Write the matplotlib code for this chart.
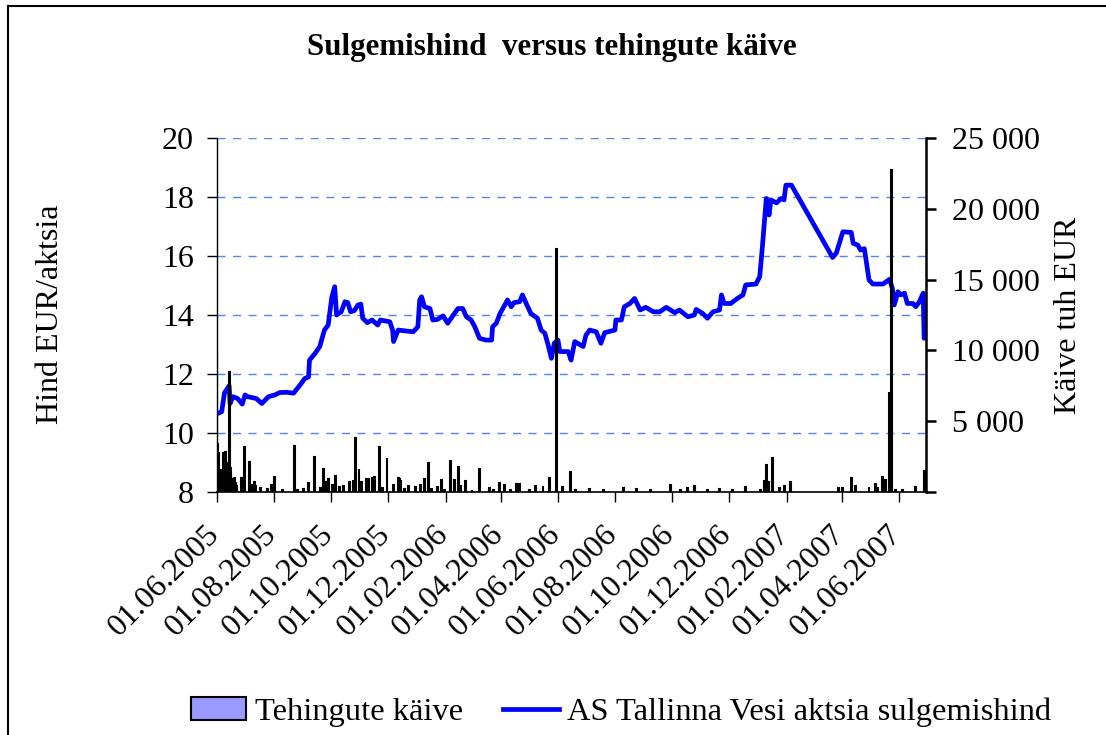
import matplotlib
matplotlib.use("Agg")
import matplotlib.pyplot as plt
import matplotlib.dates as mdates
from matplotlib.ticker import FuncFormatter, FixedLocator
from matplotlib.patches import Patch
from matplotlib.lines import Line2D
from matplotlib.transforms import ScaledTranslation
import pandas as pd

# ---------------- data ----------------
price_dates = [
    "2005-06-01", "2005-06-06", "2005-06-09", "2005-06-14", "2005-06-15", "2005-06-18",
    "2005-06-23", "2005-06-28", "2005-07-01", "2005-07-04", "2005-07-13", "2005-07-19",
    "2005-07-26", "2005-08-02", "2005-08-07", "2005-08-14", "2005-08-22", "2005-08-29",
    "2005-09-03", "2005-09-07", "2005-09-08", "2005-09-14", "2005-09-19", "2005-09-24",
    "2005-09-28", "2005-10-02", "2005-10-05", "2005-10-07", "2005-10-12", "2005-10-16",
    "2005-10-19", "2005-10-22", "2005-10-26", "2005-10-30", "2005-11-02", "2005-11-04",
    "2005-11-09", "2005-11-14", "2005-11-20", "2005-11-23", "2005-12-03", "2005-12-06",
    "2005-12-07", "2005-12-12", "2005-12-17", "2005-12-28", "2006-01-02", "2006-01-04",
    "2006-01-06", "2006-01-09", "2006-01-15", "2006-01-18", "2006-01-23", "2006-01-29",
    "2006-02-03", "2006-02-09", "2006-02-14", "2006-02-19", "2006-02-23", "2006-02-28",
    "2006-03-04", "2006-03-09", "2006-03-16", "2006-03-22", "2006-03-23", "2006-03-27",
    "2006-03-31", "2006-04-05", "2006-04-08", "2006-04-12", "2006-04-15", "2006-04-21",
    "2006-04-24", "2006-04-28", "2006-05-03", "2006-05-10", "2006-05-14", "2006-05-18",
    "2006-05-21", "2006-05-25", "2006-05-28", "2006-06-01", "2006-06-03", "2006-06-12",
    "2006-06-15", "2006-06-19", "2006-06-28", "2006-07-01", "2006-07-05", "2006-07-12",
    "2006-07-17", "2006-07-21", "2006-08-01", "2006-08-02", "2006-08-08", "2006-08-11",
    "2006-08-17", "2006-08-22", "2006-08-28", "2006-09-03", "2006-09-11", "2006-09-18",
    "2006-09-25", "2006-10-04", "2006-10-09", "2006-10-18", "2006-10-25", "2006-10-27",
    "2006-11-03", "2006-11-08", "2006-11-14", "2006-11-21", "2006-11-23", "2006-11-26",
    "2006-12-03", "2006-12-10", "2006-12-16", "2006-12-19", "2006-12-30", "2007-01-03",
    "2007-01-06", "2007-01-10", "2007-01-13", "2007-01-15", "2007-01-21", "2007-01-26",
    "2007-01-29", "2007-01-31", "2007-02-06", "2007-03-22", "2007-03-26", "2007-04-02",
    "2007-04-11", "2007-04-13", "2007-04-18", "2007-04-21", "2007-04-25", "2007-04-30",
    "2007-05-04", "2007-05-15", "2007-05-22", "2007-05-25", "2007-05-27", "2007-05-31",
    "2007-06-03", "2007-06-07", "2007-06-10", "2007-06-16", "2007-06-19", "2007-06-23",
    "2007-06-27", "2007-06-28",
]
price_values = [
    10.65, 10.72, 11.36, 11.60, 11.00, 11.23,
    11.17, 10.98, 11.29, 11.23, 11.17, 11.00,
    11.23, 11.29, 11.37, 11.38, 11.35, 11.63,
    11.85, 11.90, 12.47, 12.70, 12.93, 13.49,
    13.66, 14.62, 14.96, 14.00, 14.11, 14.45,
    14.42, 14.11, 14.15, 14.34, 14.37, 13.89,
    13.74, 13.83, 13.66, 13.83, 13.77, 13.49,
    13.10, 13.49, 13.47, 13.43, 13.60, 14.51,
    14.62, 14.28, 14.22, 13.83, 13.85, 13.97,
    13.72, 14.00, 14.22, 14.22, 13.94, 13.83,
    13.60, 13.21, 13.15, 13.15, 13.60, 13.72,
    14.05, 14.34, 14.51, 14.28, 14.42, 14.45,
    14.68, 14.39, 14.05, 13.89, 13.49, 13.38,
    13.04, 12.53, 13.04, 13.15, 12.76, 12.76,
    12.47, 13.10, 12.93, 13.32, 13.49, 13.43,
    13.04, 13.40, 13.49, 13.83, 13.83, 14.28,
    14.39, 14.56, 14.17, 14.26, 14.11, 14.11,
    14.26, 14.08, 14.17, 13.94, 14.00, 14.19,
    14.05, 13.89, 14.11, 14.17, 14.68, 14.39,
    14.39, 14.56, 14.68, 15.02, 15.05, 15.30,
    16.37, 17.95, 17.39, 17.90, 17.80, 17.95,
    17.90, 18.40, 18.40, 15.95, 16.10, 16.82,
    16.80, 16.43, 16.37, 16.20, 16.25, 15.19,
    15.05, 15.05, 15.21, 14.90, 14.34, 14.79,
    14.68, 14.74, 14.39, 14.39, 14.28, 14.45,
    14.74, 13.21,
]

volume_dates = [
    "2005-06-01", "2005-06-02", "2005-06-03", "2005-06-06", "2005-06-07", "2005-06-08",
    "2005-06-09", "2005-06-10", "2005-06-13", "2005-06-14", "2005-06-15", "2005-06-16",
    "2005-06-17", "2005-06-20", "2005-06-21", "2005-06-22", "2005-06-27", "2005-06-30",
    "2005-07-06", "2005-07-08", "2005-07-11", "2005-07-12", "2005-07-18", "2005-07-25",
    "2005-07-29", "2005-08-02", "2005-08-10", "2005-08-23", "2005-08-26", "2005-09-02",
    "2005-09-07", "2005-09-13", "2005-09-20", "2005-09-23", "2005-09-26", "2005-09-28",
    "2005-10-03", "2005-10-06", "2005-10-10", "2005-10-14", "2005-10-21", "2005-10-25",
    "2005-10-27", "2005-10-31", "2005-11-03", "2005-11-08", "2005-11-10", "2005-11-14",
    "2005-11-16", "2005-11-17", "2005-11-22", "2005-11-25", "2005-11-30", "2005-12-07",
    "2005-12-12", "2005-12-13", "2005-12-15", "2005-12-19", "2005-12-23", "2005-12-30",
    "2006-01-05", "2006-01-09", "2006-01-13", "2006-01-17", "2006-01-23", "2006-01-27",
    "2006-01-31", "2006-02-06", "2006-02-10", "2006-02-15", "2006-02-17", "2006-02-22",
    "2006-03-01", "2006-03-09", "2006-03-20", "2006-03-24", "2006-03-30", "2006-04-05",
    "2006-04-11", "2006-04-18", "2006-04-21", "2006-05-02", "2006-05-08", "2006-05-16",
    "2006-05-23", "2006-05-30", "2006-06-06", "2006-06-14", "2006-06-20", "2006-07-05",
    "2006-07-20", "2006-08-10", "2006-08-24", "2006-09-08", "2006-09-29", "2006-10-10",
    "2006-10-18", "2006-10-25", "2006-11-08", "2006-11-21", "2006-12-05", "2006-12-19",
    "2007-01-04", "2007-01-08", "2007-01-10", "2007-01-12", "2007-01-17", "2007-01-24",
    "2007-01-30", "2007-02-05", "2007-03-28", "2007-04-02", "2007-04-11", "2007-04-16",
    "2007-04-30", "2007-05-07", "2007-05-09", "2007-05-14", "2007-05-18", "2007-05-22",
    "2007-05-24", "2007-05-28", "2007-06-05", "2007-06-19", "2007-06-28",
]
volume_values = [
    9900, 3400, 2730, 1550, 1000, 2730,
    1200, 2850, 2020, 8490, 1700, 1320,
    900, 965, 610, 400, 965, 3200,
    2140, 500, 730, 400, 260, 200,
    490, 1035, 150, 3250, 120, 200,
    660, 2490, 300, 1600, 700, 895,
    500, 1130, 350, 400, 730, 800,
    3790, 1600, 700, 895, 900, 965,
    950, 1080, 3200, 300, 2420, 490,
    1010, 900, 850, 200, 420, 380,
    490, 895, 2070, 200, 330, 850,
    150, 2190, 850, 1790, 400, 800,
    150, 1620, 260, 150, 610, 490,
    150, 565, 565, 150, 420, 420,
    965, 17130, 380, 1435, 150, 190,
    120, 305, 190, 120, 520, 130,
    260, 420, 150, 210, 150, 330,
    140, 800, 1900, 730, 2380, 260,
    420, 730, 260, 305, 1010, 420,
    330, 565, 260, 1080, 850, 6960,
    22730, 140, 140, 380, 1500,
]

title = "Sulgemishind  versus tehingute käive"
left_label = "Hind EUR/aktsia"
right_label = "Käive tuh EUR"
bar_name = "Tehingute käive"
line_name = "AS Tallinna Vesi aktsia sulgemishind"
price_ticks = [8, 10, 12, 14, 16, 18, 20]
volume_ticks = [0, 5000, 10000, 15000, 20000, 25000]

# ---------------- plot ----------------
plt.rcParams["font.family"] = ["Liberation Serif", "DejaVu Serif"]
plt.rcParams["lines.scale_dashes"] = False
FS = 23

W, H = 1106, 735
fig = plt.figure(figsize=(W / 100, H / 100), dpi=100)
ax = fig.add_axes([217 / W, 1 - 492 / H, (926 - 217) / W, (492 - 138) / H])
ax2 = ax.twinx()

pd_price = pd.to_datetime(price_dates)
pd_vol = pd.to_datetime(volume_dates)

ax.plot(pd_price, price_values, color="#0000FF", lw=3.4, solid_joinstyle="round",
        solid_capstyle="round", zorder=3)
ax2.bar(pd_vol, volume_values, width=1.0, color="#9999FF", edgecolor="black",
        linewidth=1.5, zorder=3)

ax.set_xlim(pd.Timestamp("2005-06-01"), pd.Timestamp("2007-06-30"))
ax.set_ylim(8, 20)
ax2.set_ylim(0, 25000)

ax.yaxis.set_major_locator(FixedLocator(price_ticks))
ax2.yaxis.set_major_locator(FixedLocator(volume_ticks))
ax2.yaxis.set_major_formatter(FuncFormatter(lambda v, p: f"{int(v):,}".replace(",", " ") if v > 0 else ""))

ax.xaxis.set_major_locator(mdates.MonthLocator(bymonth=[2, 4, 6, 8, 10, 12]))
ax.xaxis.set_major_formatter(mdates.DateFormatter("%d.%m.%Y"))

ax.grid(axis="y", color="#5A80F5", lw=1.0, linestyle=(0, (5.8, 5.4)))
ax.set_axisbelow(True)

for s in ["top", "right"]:
    ax.spines[s].set_visible(False)
for s in ["top", "left", "bottom"]:
    ax2.spines[s].set_visible(False)
ax.spines["left"].set_linewidth(1.0)
ax.spines["bottom"].set_linewidth(1.2)
ax2.spines["right"].set_linewidth(1.8)

ax.tick_params(axis="y", direction="out", length=7.5, width=1.0, labelsize=FS, pad=9)
ax.tick_params(axis="x", direction="out", length=7.5, width=1.0, labelsize=FS, pad=4)
ax2.tick_params(axis="y", direction="out", length=7.5, width=1.8, labelsize=FS, pad=11)

for lab in ax.get_xticklabels():
    lab.set_rotation(45)
    lab.set_rotation_mode("anchor")
    lab.set_ha("right")
    lab.set_va("top")
offset = ScaledTranslation(-12 / 100, -12 / 100, fig.dpi_scale_trans)
for lab in ax.xaxis.get_majorticklabels():
    lab.set_transform(lab.get_transform() + offset)

fig.text(51 / W, 1 - 314 / H, left_label, rotation=90, ha="center", va="center", fontsize=FS)
fig.text(1068 / W, 1 - 315 / H, right_label, rotation=90, ha="center", va="center", fontsize=FS)
fig.text(552 / W, 1 - 47 / H, title, ha="center", va="center", fontsize=22.3, fontweight="bold")

handles = [Patch(facecolor="#9999FF", edgecolor="black", linewidth=1.5, label=bar_name),
           Line2D([0], [0], color="#0000FF", lw=3.4, label=line_name)]
fig.legend(handles=handles, loc="center", bbox_to_anchor=(621 / W, 1 - 712 / H), ncol=2,
           frameon=False, fontsize=23.4, handlelength=1.7, handleheight=0.68,
           handletextpad=0.25, columnspacing=1.25, borderpad=0)

# chart-area frame (left and top edges visible)
fig.add_artist(Line2D([7.5 / W, 7.5 / W], [0, 1 - 5.5 / H], color="black", lw=1.5))
fig.add_artist(Line2D([7.5 / W, 1], [1 - 5.5 / H, 1 - 5.5 / H], color="black", lw=1.5))

fig.savefig("out.png", dpi=100)
